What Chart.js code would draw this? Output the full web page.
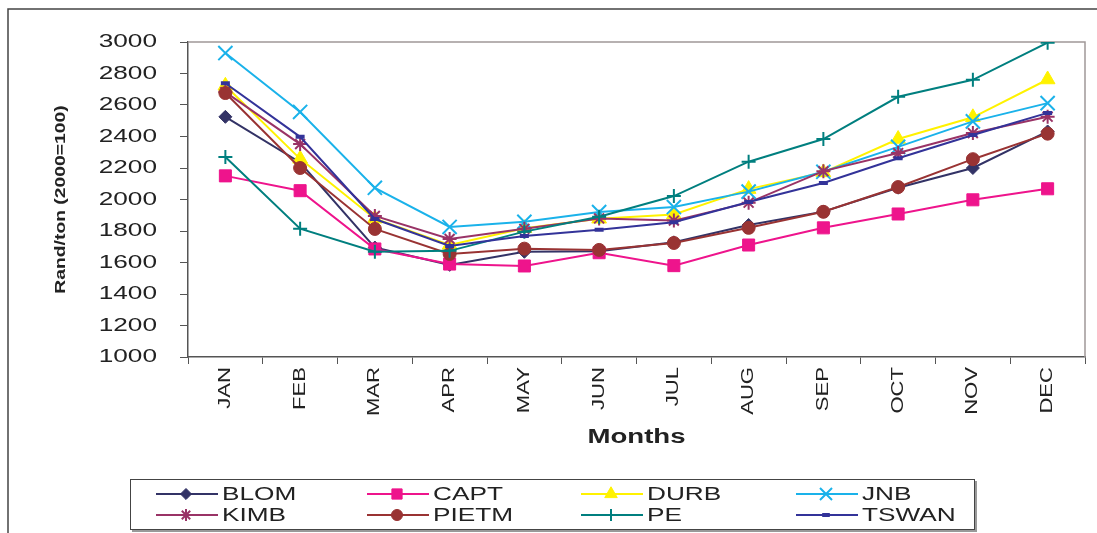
<!DOCTYPE html>
<html>
<head>
<meta charset="utf-8">
<script src="https://cdn.jsdelivr.net/npm/chart.js@4/dist/chart.umd.min.js"></script>
<style>
body{margin:0;background:#fff;}
canvas{display:block;}
</style>
</head>
<body>
<canvas id="chart" width="1097" height="533"></canvas>
<script>
// months on the x axis
const months = ["JAN","FEB","MAR","APR","MAY","JUN","JUL","AUG","SEP","OCT","NOV","DEC"];

// Rand/ton per centre
const blom  = [2525,2235,1695,1585,1668,1672,1728,1838,1923,2075,2200,2432];
const capt  = [2150,2056,1686,1590,1578,1662,1580,1711,1820,1908,1998,2068];
const durb  = [2722,2258,1878,1712,1818,1878,1905,2066,2172,2384,2522,2762];
const jnb   = [2930,2556,2074,1826,1858,1920,1952,2050,2176,2334,2496,2612];
const kimb  = [2682,2352,1896,1750,1814,1880,1866,1980,2180,2295,2422,2526];
const pietm = [2676,2200,1813,1654,1688,1680,1724,1820,1922,2079,2256,2418];
const pe    = [2270,1815,1668,1674,1796,1890,2022,2240,2384,2652,2760,2996];
const tswan = [2738,2398,1876,1705,1768,1808,1855,1984,2105,2262,2410,2550];

const yTicks = [1000,1200,1400,1600,1800,2000,2200,2400,2600,2800,3000];

const series = [
  {label:"BLOM",  data:blom,  color:"#333366", style:"rectRot",  r:6.5, bw:1},
  {label:"CAPT",  data:capt,  color:"#EE148C", style:"rect",     r:8.5, bw:1},
  {label:"DURB",  data:durb,  color:"#FFF200", style:"triangle", r:8.5, bw:1},
  {label:"JNB",   data:jnb,   color:"#1AB2EA", style:"crossRot", r:10,  bw:2},
  {label:"KIMB",  data:kimb,  color:"#993366", style:"star",     r:7,   bw:2},
  {label:"PIETM", data:pietm, color:"#993333", style:"circle",   r:6.5, bw:1},
  {label:"PE",    data:pe,    color:"#007F7F", style:"cross",    r:7,   bw:2},
  {label:"TSWAN", data:tswan, color:"#333399", style:"line",     r:4.5, bw:4}
];

// the old chart has wide lettering, so stretch every text draw sideways a bit
const TEXT_STRETCH = 1.38;
const canvas = document.getElementById("chart");
const c2d = canvas.getContext("2d");
const rawFill = c2d.fillText.bind(c2d);
c2d.fillText = function(t,x,y){
  c2d.save();
  c2d.translate(x,y);
  c2d.scale(TEXT_STRETCH,1);
  rawFill(t,0,0);
  c2d.restore();
};

const FONT = "'Liberation Sans', Arial, sans-serif";

const frame = {
  id:"frame",
  beforeDraw(chart){
    const ctx = chart.ctx;
    ctx.save();
    ctx.strokeStyle = "#444";
    ctx.lineWidth = 1.5;
    ctx.beginPath();
    ctx.moveTo(8,533);
    ctx.lineTo(8,9);
    ctx.lineTo(1097,9);
    ctx.stroke();
    ctx.restore();
  },
  beforeDatasetsDraw(chart){
    const a = chart.chartArea, ctx = chart.ctx;
    ctx.save();
    ctx.strokeStyle = "#a09898";
    ctx.lineWidth = 1.5;
    ctx.beginPath();
    ctx.moveTo(a.left,a.top);
    ctx.lineTo(a.right,a.top);
    ctx.lineTo(a.right,a.bottom);
    ctx.stroke();
    ctx.restore();
  }
};

// legend box under the chart, 4 columns x 2 rows
const boxLegend = {
  id:"boxLegend",
  afterDraw(chart){
    const ctx = chart.ctx;
    ctx.save();
    ctx.fillStyle = "#999";
    ctx.fillRect(132,481,845,51);
    ctx.fillStyle = "#fff";
    ctx.fillRect(130,479,844,50);
    ctx.strokeStyle = "#444";
    ctx.lineWidth = 1;
    ctx.strokeRect(130.5,479.5,844,50);

    const colX = [156,367,581,796];
    const rowY = [494,515];
    chart.data.datasets.forEach((ds,i)=>{
      const x = colX[i%4], y = rowY[Math.floor(i/4)];
      ctx.strokeStyle = ds.borderColor;
      ctx.lineWidth = 2;
      ctx.beginPath();
      ctx.moveTo(x,y);
      ctx.lineTo(x+62,y);
      ctx.stroke();
      ctx.fillStyle = ds.borderColor;
      ctx.lineWidth = ds.pointBorderWidth;
      Chart.helpers.drawPoint(ctx,{pointStyle:ds.pointStyle,radius:ds.pointRadius*0.85,borderWidth:ds.pointBorderWidth,rotation:0},x+30,y);
      ctx.fillStyle = "#222";
      ctx.font = "19px "+FONT;
      ctx.textAlign = "left";
      ctx.textBaseline = "middle";
      ctx.fillText(ds.label,x+66,y+1);
    });
    ctx.restore();
  }
};

new Chart(canvas,{
  type:"line",
  data:{
    labels:months,
    datasets:series.map((s,i)=>({
      label:s.label,
      data:s.data,
      borderColor:s.color,
      backgroundColor:s.color,
      borderWidth:2,
      pointStyle:s.style,
      pointRadius:s.r,
      pointBorderWidth:s.bw,
      pointBackgroundColor:s.color,
      pointBorderColor:s.color,
      tension:0,
      order:series.length-i
    }))
  },
  options:{
    responsive:false,
    devicePixelRatio:1,
    animation:false,
    layout:{padding:{left:50,top:42,right:8,bottom:81}},
    plugins:{legend:{display:false},tooltip:{enabled:false}},
    scales:{
      x:{
        offset:true,
        grid:{offset:true,drawOnChartArea:false,drawTicks:true,tickLength:7,color:"#555"},
        border:{display:true,color:"#555",width:1.5},
        ticks:{minRotation:90,maxRotation:90,padding:3,color:"#222",font:{family:FONT,size:16}},
        title:{display:true,text:"Months",color:"#222",font:{family:FONT,size:20,weight:"bold"},padding:{top:0,bottom:3}},
        afterFit(s){ s.height = 95; }
      },
      y:{
        min:1000,
        max:3000,
        afterBuildTicks(s){ s.ticks = yTicks.map(v=>({value:v})); },
        grid:{drawOnChartArea:false,drawTicks:true,tickLength:8,color:"#555"},
        border:{display:true,color:"#555",width:1.5},
        ticks:{padding:23,color:"#222",font:{family:FONT,size:19},callback:v=>String(v)},
        title:{display:true,text:"Rand/ton (2000=100)",color:"#222",font:{family:FONT,size:14,weight:"bold"},padding:{top:3,bottom:0}},
        afterFit(s){ s.width = 138; }
      }
    }
  },
  plugins:[frame,boxLegend]
});
</script>
</body>
</html>
